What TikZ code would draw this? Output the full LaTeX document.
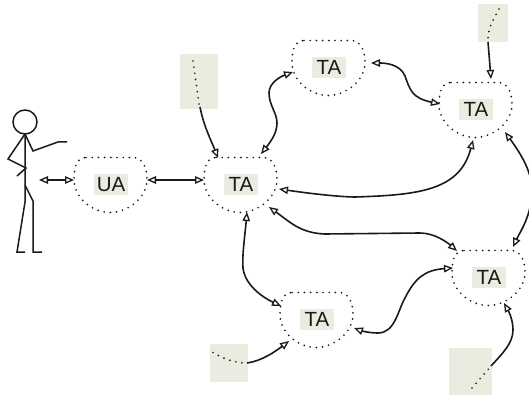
\documentclass[tikz,border=0pt]{standalone}
\usepackage{fontspec}
\setmainfont{Liberation Sans}
\usetikzlibrary{arrows.meta}
\definecolor{paper}{HTML}{EBEBDF}
\definecolor{ink}{HTML}{1A1A1A}
\tikzset{
  lab/.style={fill=paper,text=ink,font=\fontsize{20.5}{20.5}\selectfont,minimum width=34pt,minimum height=21pt,inner sep=0pt},
  dots/.style={line width=1.9pt,line cap=round,dash pattern=on 0pt off 6.2pt,draw=ink},
  conn/.style={line width=1.6pt,draw=ink},
  tip/.tip={Triangle[fill=white,length=9pt,width=7.5pt,line width=1.3pt]},
  one/.style={conn,-{tip}},
  two/.style={conn,{tip}-{tip}},
  person/.style={line width=1.5pt,draw=ink,line join=miter},
  srcbox/.style={fill=paper,draw=none,inner sep=0pt,anchor=north west}
}
\newcommand\blob[4]{%
  \node[lab] (#1) at (#2,#3) {#4};
  \draw[dots,shift={(#2,#3)}] (-25,-27) -- (22,-27) .. controls (31,-27) and (36,-18) .. (36,-5)
    .. controls (36,13) and (17,28) .. (-1,28) .. controls (-19,28) and (-37,13) .. (-37,-5)
    .. controls (-37,-18) and (-34,-27) .. (-25,-27);
}
\newcommand\srcb[5]{\node[srcbox,minimum width=#4pt,minimum height=#5pt] (#1) at (#2,#3) {};}
\begin{document}
\begin{tikzpicture}[x=1pt,y=-1pt]
\useasboundingbox (0,0) rectangle (529,395);
% source boxes
\srcb{sa}{180}{54}{38}{55}
\srcb{sb}{478}{4}{30}{38}
\srcb{sc}{210}{344}{38}{38}
\srcb{sd}{449}{348}{43}{47}
\draw[dots] (193,61) .. controls (195,75) and (197,90) .. (199,104);
\draw[dots] (499,9) .. controls (493,20) and (488,28) .. (488,39);
\draw[dots] (213,352.5) .. controls (222,358) and (234,363) .. (246,363);
\draw[dots] (472,388) -- (491,366);
% agents
\blob{ua}{111}{184.5}{UA}
\blob{tac}{241}{184.5}{TA}
\blob{tat}{329}{67.5}{TA}
\blob{tar}{476}{109.5}{TA}
\blob{tab}{317}{319.5}{TA}
\blob{tas}{489}{277.5}{TA}
% connector ends
\coordinate (hand) at (39,180);
\coordinate (uaL) at (74,180);
\coordinate (uaR) at (147,180);
\coordinate (tacL) at (204,180);
\coordinate (tacT) at (218,158);
\coordinate (tacN) at (261,154);
\coordinate (tacE) at (279,189);
\coordinate (tacSE) at (269,207);
\coordinate (tacS) at (247,212);
\coordinate (tatW) at (293,72);
\coordinate (tatE) at (371,63);
\coordinate (tarW) at (440,104);
\coordinate (tarN) at (491,79);
\coordinate (tarS) at (473,140);
\coordinate (tarSE) at (505,132);
\coordinate (tabW) at (281,306);
\coordinate (tabE) at (354,328);
\coordinate (tabSW) at (289,341);
\coordinate (tasNW) at (457,251);
\coordinate (tasW) at (453,268);
\coordinate (tasN) at (513,247);
\coordinate (tasS) at (504,303);
\coordinate (saE) at (200,107);
\coordinate (sbE) at (488,42);
\coordinate (scE) at (247,363);
\coordinate (sdE) at (491,366);
% connectors
\draw[two] (hand) -- (uaL);
\draw[two] (uaR) -- (tacL);
\draw[one] (saE) .. controls (204,127) and (211,140) .. (tacT);
\draw[one] (sbE) -- (tarN);
\draw[one] (scE) .. controls (262,361) and (276,351) .. (tabSW);
\draw[one] (sdE) .. controls (503,353) and (513,343) .. (513,330) .. controls (513,320) and (509,312) .. (tasS);
\draw[two] (tacN) .. controls (272,140) and (277,132) .. (277,123) .. controls (277,113) and (269,105) .. (269,93) .. controls (269,82) and (282,76) .. (tatW);
\draw[two] (tatE) .. controls (385,63) and (400,64) .. (405,76) .. controls (410,90) and (412,98) .. (tarW);
\draw[two] (tacE) .. controls (320,195) and (345,197) .. (355,197) .. controls (420,195) and (460,190) .. (tarS);
\draw[two] (tacSE) .. controls (290,222) and (300,233) .. (325,234) -- (420,233) .. controls (435,233) and (448,243) .. (tasNW);
\draw[two] (tacS) .. controls (245,235) and (242,255) .. (243,268) .. controls (245,285) and (262,297) .. (tabW);
\draw[two] (tabE) .. controls (362,331) and (370,333) .. (378,333) .. controls (395,333) and (398,310) .. (405,298) .. controls (415,278) and (425,270) .. (tasW);
\draw[two] (tarSE) .. controls (518,150) and (532,170) .. (532,190) .. controls (532,215) and (520,232) .. (tasN);
% person
\coordinate (neck) at (25,134);
\node[circle,person,draw,minimum size=24pt,inner sep=0pt] (head) at (25,122) {};
\draw[person] (neck) -- (25,202) -- (17,252) -- (25,252);
\draw[person] (25,185) -- (33,201) -- (33,252) -- (42,252);
\draw[person] (neck) -- (8,159) -- (26,168) -- (17,176);
\draw[person] (neck) -- (33,151) -- (58,142) -- (67,142);
\end{tikzpicture}
\end{document}
